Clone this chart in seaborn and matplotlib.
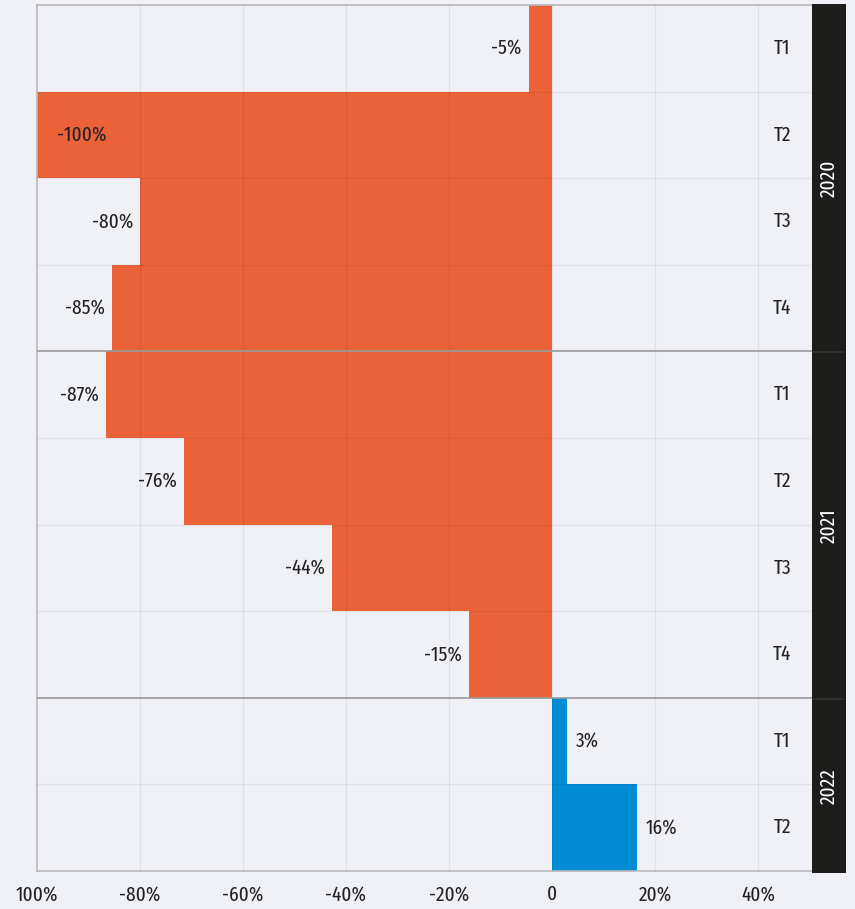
import matplotlib
matplotlib.use("Agg")
import matplotlib.pyplot as plt
import seaborn as sns
import pandas as pd
from matplotlib import font_manager
from matplotlib.font_manager import FontProperties

years = ["2020", "2020", "2020", "2020", "2021", "2021", "2021", "2021", "2022", "2022"]
quarters = ["T1", "T2", "T3", "T4", "T1", "T2", "T3", "T4", "T1", "T2"]
values = [-4.5, -100, -80, -85.5, -86.6, -71.5, -42.7, -16.1, 2.9, 16.5]
value_labels = ["-5%", "-100%", "-80%", "-85%", "-87%", "-76%", "-44%", "-15%", "3%", "16%"]
xticks = [-100, -80, -60, -40, -20, 0, 20, 40]
xtick_labels = ["100%", "-80%", "-60%", "-40%", "-20%", "0", "20%", "40%"]
year_groups = ["2020", "2021", "2022"]

ORANGE = "#EB6239"
BLUE = "#008BD5"
BG = "#F0F1F6"
DARK = "#1D1D1B"
TXT = "#222222"

sns.set_theme(style="white")
plt.rcParams["font.family"] = ["Roboto", "DejaVu Sans"]

# look for an installed condensed face (prefer extra-condensed, regular weight)
STRETCH = {"ultra-condensed": 50, "extra-condensed": 62.5, "condensed": 75,
           "semi-condensed": 87.5, "normal": 100}


def stretch_of(f):
    fn = f.fname.lower().replace("_", "").replace("-", "")
    if "ultracondensed" in fn:
        return 50
    if "extracondensed" in fn:
        return 62.5
    if "semicondensed" in fn:
        return 87.5
    if "condensed" in fn or "narrow" in fn:
        return 75
    s = f.stretch
    if isinstance(s, (int, float)):
        return s / 10 if s > 100 else s
    return STRETCH.get(str(s).lower(), 100)


cond, best = None, None
for f in font_manager.fontManager.ttflist:
    st = stretch_of(f)
    if st >= 87:
        continue
    fn = f.fname.lower()
    if f.style != "normal" or "italic" in fn:
        continue
    w = f.weight if isinstance(f.weight, int) else 400
    score = abs(w - 400) / 100 + abs(st - 62.5) / 10
    if best is None or score < best:
        best, cond, cst = score, f.fname, st

if cond:
    FP = FontProperties(fname=cond)
    FS = 15 if cst < 70 else 14
else:
    FP = FontProperties(family=["Roboto", "DejaVu Sans"])
    FS = 12

df = pd.DataFrame({
    "row": [f"{y} {q}" for y, q in zip(years, quarters)],
    "value": values,
    "sign": ["neg" if v < 0 else "pos" for v in values],
})

fig = plt.figure(figsize=(8.55, 9.09), dpi=100)
fig.patch.set_facecolor(BG)
W, H = 855, 909
ax = fig.add_axes([37 / W, 1 - 871 / H, (812 - 37) / W, (871 - 5) / H])
ax.set_facecolor(BG)

sns.barplot(data=df, x="value", y="row", hue="sign", palette={"neg": ORANGE, "pos": BLUE},
            orient="h", width=1.0, dodge=False, legend=False, ax=ax, saturation=1, linewidth=0)

n = len(values)
ax.set_xlim(-100, 50.5)
ax.set_ylim(n - 0.5, -0.5)

for xt in xticks[1:]:
    ax.axvline(xt, color="black", alpha=0.06, lw=1, zorder=3)
for i in range(1, n):
    if years[i] != years[i - 1]:
        ax.axhline(i - 0.5, color="#9a9a9a", lw=1.2, zorder=4)
    else:
        ax.axhline(i - 0.5, color="black", alpha=0.06, lw=1, zorder=3)

ax.set_xticks(xticks)
ax.set_xticklabels(xtick_labels, fontproperties=FP, fontsize=FS, color=TXT)
ax.tick_params(axis="x", length=0, pad=10)
ax.set_yticks([])
ax.set_xlabel("")
ax.set_ylabel("")
for s in ["left", "bottom", "top"]:
    ax.spines[s].set_color("#b8b8bc")
    ax.spines[s].set_linewidth(1.2)
ax.spines["right"].set_visible(False)

px = 150.5 / (812 - 37)
for i, (v, lab) in enumerate(zip(values, value_labels)):
    if v <= -99:
        ax.text(v + 20 * px, i, lab, ha="left", va="center", fontproperties=FP, fontsize=FS, color=TXT, zorder=5)
    elif v < 0:
        ax.text(v - 7 * px, i, lab, ha="right", va="center", fontproperties=FP, fontsize=FS, color=TXT, zorder=5)
    else:
        ax.text(v + 9 * px, i, lab, ha="left", va="center", fontproperties=FP, fontsize=FS, color=TXT, zorder=5)

for i, q in enumerate(quarters):
    ax.text(44.7, i, q, ha="center", va="center", fontproperties=FP, fontsize=FS, color=TXT, zorder=5)

sax = fig.add_axes([812 / W, 1 - 873 / H, (846 - 812) / W, (873 - 4) / H])
sax.set_facecolor(DARK)
sax.set_xlim(0, 1)
sax.set_ylim(n - 0.5, -0.5)
sax.set_xticks([])
sax.set_yticks([])
for s in sax.spines.values():
    s.set_visible(False)
for yg in year_groups:
    idx = [i for i, y in enumerate(years) if y == yg]
    c = (idx[0] + idx[-1]) / 2
    sax.text(0.5, c, yg, rotation=90, ha="center", va="center", color="white", fontproperties=FP, fontsize=FS)
for i in range(1, n):
    if years[i] != years[i - 1]:
        sax.axhline(i - 0.5, xmax=0.9, color="#333333", lw=1.2)

fig.savefig("out.png", dpi=100, facecolor=BG)
